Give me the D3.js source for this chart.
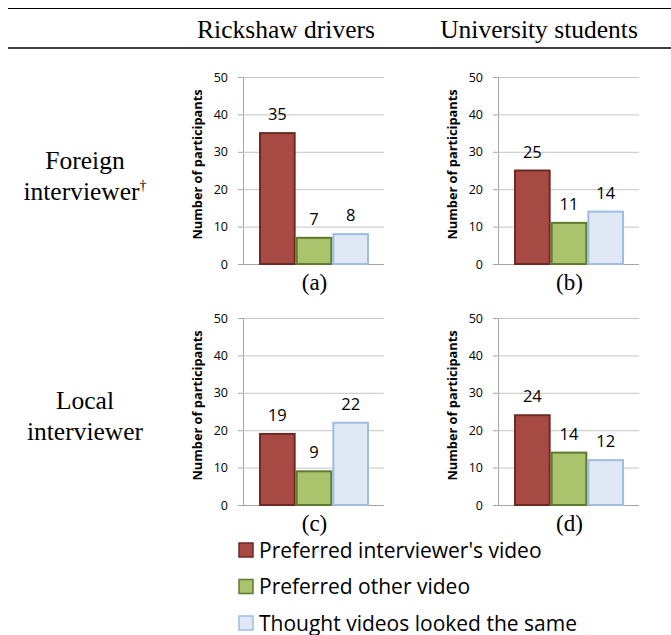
<!DOCTYPE html>
<html>
<head>
<meta charset="utf-8">
<script src="https://cdn.jsdelivr.net/npm/d3@7"></script>
<style>
  body { margin: 0; background: #fff; }
  svg { display: block; }
</style>
</head>
<body>
<div id="chart"></div>
<script>
const categories = ["Preferred interviewer's video", "Preferred other video", "Thought videos looked the same"];
const rickshawForeign = [35, 7, 8];
const studentsForeign = [25, 11, 14];
const rickshawLocal = [19, 9, 22];
const studentsLocal = [24, 14, 12];
const yTicks = [0, 10, 20, 30, 40, 50];
const columnLabels = ["Rickshaw drivers", "University students"];
const rowLabels = [["Foreign", "interviewer"], ["Local", "interviewer"]];
const panelLetters = ["(a)", "(b)", "(c)", "(d)"];

const fills = ["#a64a43", "#a9c46c", "#dfe8f4"];
const strokes = ["#6d2a25", "#5f7a30", "#9ebde2"];

const width = 671;
const height = 635;
const sans = "'Open Sans', sans-serif";
const serif = "'Liberation Serif', 'Times New Roman', serif";

const svg = d3.select("#chart").append("svg")
  .attr("width", width)
  .attr("height", height);

// table rules
svg.append("line").attr("x1", 8).attr("x2", width).attr("y1", 8.5).attr("y2", 8.5)
  .attr("stroke", "#000").attr("stroke-width", 1);
svg.append("line").attr("x1", 8).attr("x2", width).attr("y1", 48).attr("y2", 48)
  .attr("stroke", "#000").attr("stroke-width", 1.5);

const colX = [243, 498];
const rowY = [77, 318];
const plotW = 141;
const plotH = 187;

columnLabels.forEach((label, i) => {
  svg.append("text")
    .attr("x", [286, 539][i])
    .attr("y", 38)
    .attr("text-anchor", "middle")
    .attr("font-family", serif)
    .attr("font-size", 25.5)
    .text(label);
});

rowLabels.forEach((lines, i) => {
  const t = svg.append("text")
    .attr("text-anchor", "middle")
    .attr("font-family", serif)
    .attr("font-size", 25.5);
  t.append("tspan").attr("x", 85).attr("y", [169, 409][i]).text(lines[0]);
  const second = t.append("tspan").attr("x", 85).attr("dy", 31).text(lines[1]);
  if (i === 0) {
    second.append("tspan").attr("font-size", 14).attr("dy", -10).text("\u2020");
  }
});

const panels = [
  { values: rickshawForeign, col: 0, row: 0, letter: panelLetters[0] },
  { values: studentsForeign, col: 1, row: 0, letter: panelLetters[1] },
  { values: rickshawLocal, col: 0, row: 1, letter: panelLetters[2] },
  { values: studentsLocal, col: 1, row: 1, letter: panelLetters[3] }
];

const y = d3.scaleLinear().domain([0, 50]).range([plotH, 0]);
const x = d3.scaleBand().domain(categories).range([16, plotW - 15]).padding(0);

panels.forEach(p => {
  const g = svg.append("g")
    .attr("transform", `translate(${colX[p.col]}, ${rowY[p.row]})`);

  const yAxis = g.append("g")
    .call(d3.axisLeft(y).tickValues(yTicks).tickSize(5).tickPadding(10));
  yAxis.select(".domain").attr("stroke", "#a6a6a6");
  yAxis.selectAll(".tick line").attr("stroke", "#a6a6a6");
  yAxis.selectAll(".tick text")
    .attr("font-family", sans)
    .attr("font-size", 12.5)
    .attr("fill", "#000");

  g.selectAll("line.grid")
    .data(yTicks)
    .join("line")
    .attr("class", "grid")
    .attr("x1", 0)
    .attr("x2", plotW)
    .attr("y1", d => y(d) + 0.5)
    .attr("y2", d => y(d) + 0.5)
    .attr("stroke", d => d === 0 ? "#a6a6a6" : "#c4c4c4")
    .attr("stroke-width", 1);

  g.selectAll("rect.bar")
    .data(p.values)
    .join("rect")
    .attr("class", "bar")
    .attr("x", (d, i) => x(categories[i]) + 1)
    .attr("y", d => y(d))
    .attr("width", x.bandwidth() - 2)
    .attr("height", d => plotH - y(d))
    .attr("fill", (d, i) => fills[i])
    .attr("stroke", (d, i) => strokes[i])
    .attr("stroke-width", 2);

  g.selectAll("text.value")
    .data(p.values)
    .join("text")
    .attr("class", "value")
    .attr("x", (d, i) => x(categories[i]) + x.bandwidth() / 2)
    .attr("y", d => y(d) - 13)
    .attr("text-anchor", "middle")
    .attr("font-family", sans)
    .attr("font-size", 16.5)
    .text(d => d);

  g.append("text")
    .attr("transform", `translate(-41, ${plotH / 2 - 6}) rotate(-90)`)
    .attr("text-anchor", "middle")
    .attr("font-family", sans)
    .attr("font-weight", "bold")
    .attr("font-size", 12.8)
    .text("Number of participants");

  g.append("text")
    .attr("x", plotW / 2 + 1)
    .attr("y", plotH + 25.5)
    .attr("text-anchor", "middle")
    .attr("font-family", serif)
    .attr("font-size", 23)
    .text(p.letter);
});

const legend = svg.append("g").attr("transform", "translate(238, 550)");
const rows = legend.selectAll("g")
  .data(categories)
  .join("g")
  .attr("transform", (d, i) => `translate(0, ${i * 36.5})`);

rows.append("rect")
  .attr("x", 1)
  .attr("y", -7)
  .attr("width", 14)
  .attr("height", 14)
  .attr("fill", (d, i) => fills[i])
  .attr("stroke", (d, i) => strokes[i])
  .attr("stroke-width", 1.5);

rows.append("text")
  .attr("x", 21)
  .attr("y", 7.5)
  .attr("font-family", sans)
  .attr("font-size", 21)
  .text(d => d);
</script>
</body>
</html>
